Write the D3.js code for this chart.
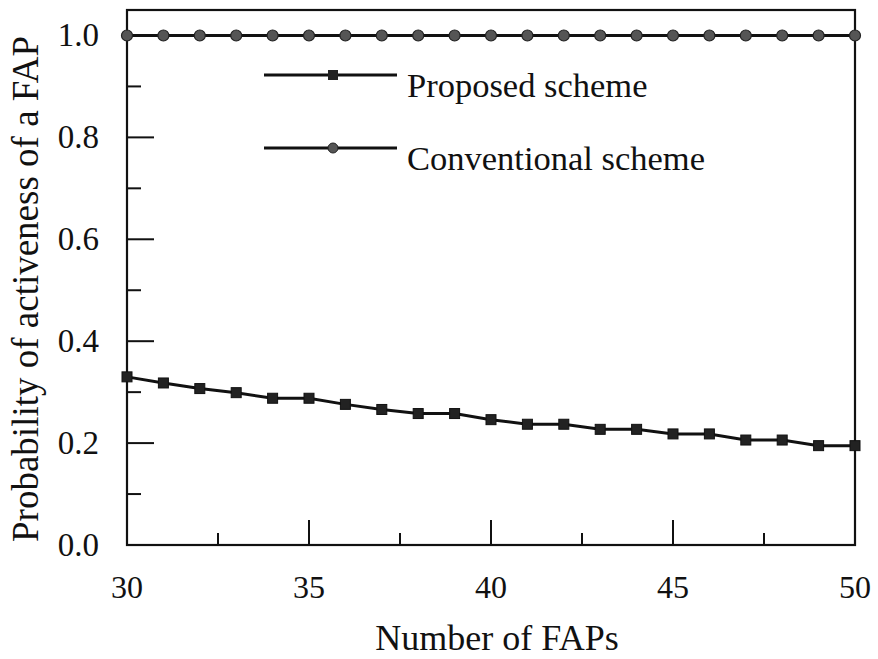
<!DOCTYPE html>
<html><head><meta charset="utf-8">
<script src="https://cdn.jsdelivr.net/npm/d3@7"></script>
<style>body{margin:0;background:#fff}svg{display:block}text{font-family:"Liberation Serif","Times New Roman",serif;fill:#111}</style>
</head><body><svg id="c" width="878" height="659"></svg>
<script>
const fapCounts = [30,31,32,33,34,35,36,37,38,39,40,41,42,43,44,45,46,47,48,49,50];
const proposedValues = [0.330,0.318,0.307,0.299,0.288,0.288,0.276,0.266,0.258,0.258,0.246,0.237,0.237,0.227,0.227,0.218,0.218,0.206,0.206,0.195,0.195];
const conventionalValues = [1.0,1.0,1.0,1.0,1.0,1.0,1.0,1.0,1.0,1.0,1.0,1.0,1.0,1.0,1.0,1.0,1.0,1.0,1.0,1.0,1.0];
const xTickValues = [30,35,40,45,50];
const yTickValues = [0.0,0.2,0.4,0.6,0.8,1.0];
const seriesNames = ["Proposed scheme","Conventional scheme"];

const svg = d3.select("#c");
const L=127, R=855, T=10, B=545;
const x = d3.scaleLinear().domain([30,50]).range([L,R]);
const y = d3.scaleLinear().domain([0,1.05]).range([B,T]);

svg.append("rect").attr("x",L).attr("y",T).attr("width",R-L).attr("height",B-T)
  .attr("fill","none").attr("stroke","#111").attr("stroke-width",2.2);

const gx = svg.append("g");
d3.range(30,50.01,2.5).forEach(v=>{
  const major = v%5===0;
  gx.append("line").attr("x1",x(v)).attr("x2",x(v)).attr("y1",B).attr("y2",B-(major?25:12))
    .attr("stroke","#111").attr("stroke-width",2);
});
xTickValues.forEach(v=>{
  gx.append("text").attr("x",x(v)).attr("y",598).attr("text-anchor","middle")
    .attr("font-size",32).text(d3.format("d")(v));
});
d3.range(0,1.001,0.1).forEach(v=>{
  const major = Math.round(v*10)%2===0;
  gx.append("line").attr("x1",L).attr("x2",L+(major?27:14)).attr("y1",y(v)).attr("y2",y(v))
    .attr("stroke","#111").attr("stroke-width",2);
});
yTickValues.forEach(v=>{
  gx.append("text").attr("x",99).attr("y",y(v)+11).attr("text-anchor","end")
    .attr("font-size",33).text(d3.format(".1f")(v));
});

svg.append("text").attr("x",497).attr("y",650).attr("text-anchor","middle")
  .attr("font-size",36).text("Number of FAPs");
svg.append("text").attr("transform","translate(38,289) rotate(-90)")
  .attr("text-anchor","middle").attr("font-size",37).text("Probability of activeness of a FAP");

const line = d3.line().x((d,i)=>x(fapCounts[i])).y(d=>y(d));
svg.append("path").datum(conventionalValues).attr("d",line).attr("fill","none").attr("stroke","#111").attr("stroke-width",3);
svg.append("path").datum(proposedValues).attr("d",line).attr("fill","none").attr("stroke","#111").attr("stroke-width",3);

svg.selectAll(".cm").data(conventionalValues).enter().append("circle")
  .attr("cx",(d,i)=>x(fapCounts[i])).attr("cy",d=>y(d)).attr("r",5.5)
  .attr("fill","#555").attr("stroke","#222").attr("stroke-width",1.2);
svg.selectAll(".pm").data(proposedValues).enter().append("rect")
  .attr("x",(d,i)=>x(fapCounts[i])-5).attr("y",d=>y(d)-5).attr("width",10).attr("height",10)
  .attr("fill","#222").attr("stroke","#111").attr("stroke-width",1);

const lg = svg.append("g");
[[75,"rect"],[148,"circle"]].forEach(([ly,shape],i)=>{
  lg.append("line").attr("x1",264).attr("x2",397).attr("y1",ly).attr("y2",ly).attr("stroke","#111").attr("stroke-width",3);
  if(shape==="rect") lg.append("rect").attr("x",328).attr("y",ly-5).attr("width",10).attr("height",10).attr("fill","#222");
  else lg.append("circle").attr("cx",333).attr("cy",ly).attr("r",5).attr("fill","#555").attr("stroke","#222");
  lg.append("text").attr("x",407).attr("y",ly+22).attr("font-size",34.5).text(seriesNames[i]);
});
</script></body></html>
